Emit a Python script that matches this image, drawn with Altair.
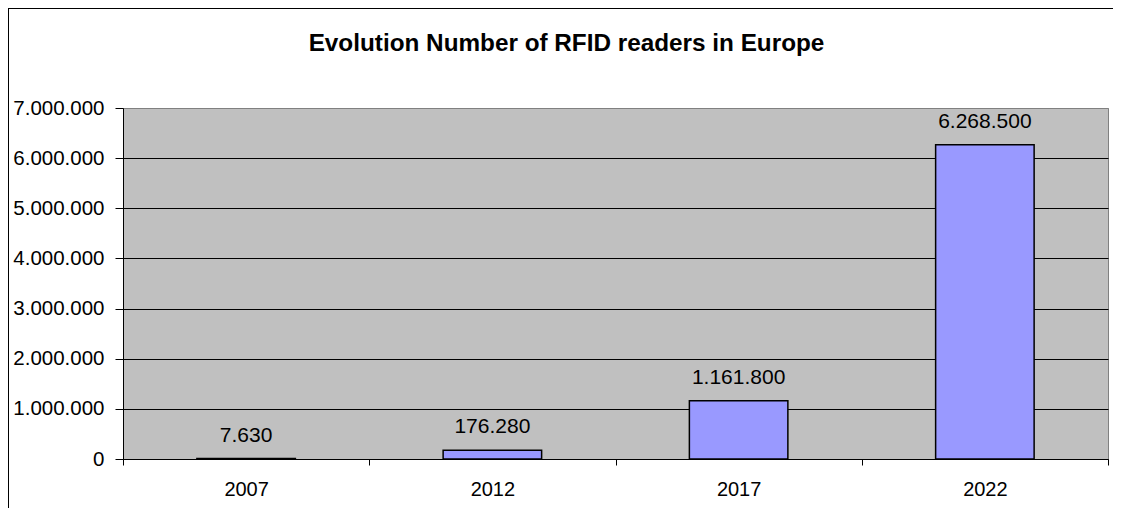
import altair as alt
import pandas as pd

# ---- data ----
years = ["2007", "2012", "2017", "2022"]
readers = [7630, 176280, 1161800, 6268500]
y_tick_values = [0, 1000000, 2000000, 3000000, 4000000, 5000000, 6000000, 7000000]
title_text = "Evolution Number of RFID readers in Europe"

df = pd.DataFrame({"year": years, "readers": readers})
one = pd.DataFrame({"k": [0]})

FONT = "Liberation Sans"
dot_fmt_axis = "replace(replace(format(datum.value, ','), ',', '.'), ',', '.')"
dot_fmt_label = "replace(replace(format(datum.readers, ','), ',', '.'), ',', '.')"

x_enc = alt.X(
    "year:N",
    sort=years,
    title=None,
    scale=alt.Scale(paddingInner=0, paddingOuter=0),
    axis=alt.Axis(
        labelAngle=0,
        tickBand="extent",
        domainColor="black",
        domainWidth=1,
        tickColor="black",
        tickSize=6,
        labelFontSize=20,
        labelFont=FONT,
        labelColor="black",
        labelPadding=14,
        grid=False,
    ),
)

y_enc = alt.Y(
    "readers:Q",
    title=None,
    scale=alt.Scale(domain=[0, 7000000], nice=False, zero=True),
    axis=alt.Axis(
        values=y_tick_values,
        labelExpr=dot_fmt_axis,
        domainColor="black",
        tickColor="black",
        tickSize=8,
        labelPadding=11,
        labelFontSize=20.5,
        labelFont=FONT,
        labelColor="black",
        grid=True,
        gridColor={"condition": {"test": "datum.value >= 7000000", "value": "#808080"}, "value": "black"},
        gridOpacity=1,
        gridWidth=1,
        minExtent=110,
        maxExtent=110,
    ),
)

bars = alt.Chart(df).mark_bar(
    color="#9999FF", stroke="black", strokeWidth=1.5, width=alt.RelativeBandSize(0.4)
).encode(x=x_enc, y=y_enc)

labels = alt.Chart(df).transform_calculate(label=dot_fmt_label).mark_text(
    dy=-17, baseline="alphabetic", fontSize=21, font=FONT, color="black"
).encode(
    x=alt.X("year:N", sort=years),
    y=alt.Y("readers:Q"),
    text="label:N",
)

left_border = alt.Chart(one).mark_rule(color="black", strokeWidth=1).encode(
    x=alt.value(-114.5), y=alt.value(-100), y2=alt.value(400)
)
top_border = alt.Chart(one).mark_rule(color="black", strokeWidth=1).encode(
    x=alt.value(-115), x2=alt.value(990), y=alt.value(-99.5)
)

chart = alt.layer(bars, labels, left_border, top_border).properties(
    width=985,
    height=351,
    padding={"left": 115, "top": 100, "right": 8, "bottom": 49},
    autosize=alt.AutoSizeParams(type="none"),
    background="white",
    title=alt.Title(
        title_text,
        fontSize=24.3,
        font=FONT,
        fontWeight="bold",
        color="black",
        anchor="middle",
        frame="group",
        dx=-49,
        dy=79,
        offset=30,
    ),
).configure_view(fill="#C0C0C0", stroke="#808080", strokeWidth=1)

chart.save("out.html", embed_options={"renderer": "svg", "actions": False})
